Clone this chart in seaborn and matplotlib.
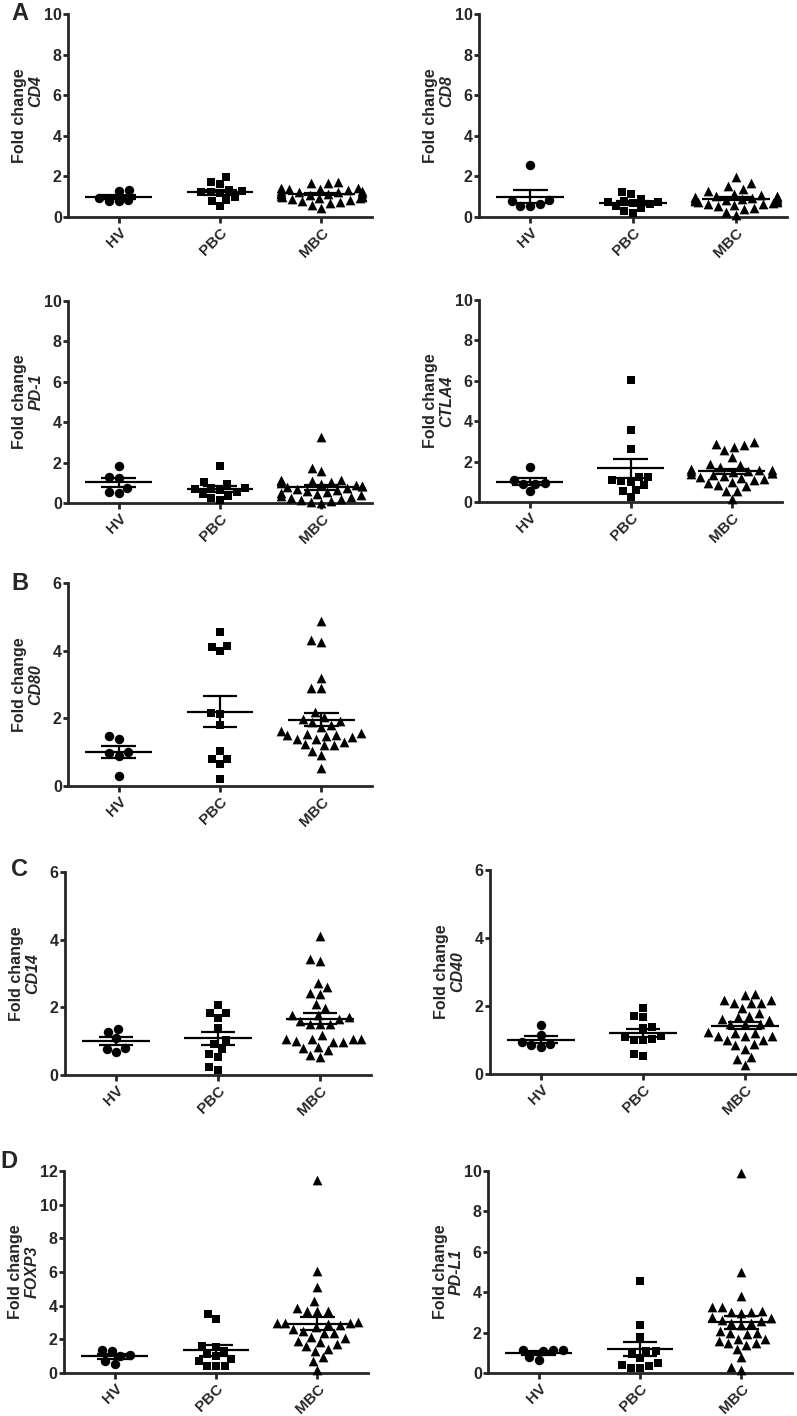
import numpy as np
import pandas as pd
import matplotlib
matplotlib.use("Agg")
import matplotlib.pyplot as plt
import seaborn as sns
import warnings
warnings.filterwarnings("ignore")

# ---------------- data ----------------
GROUPS = ["HV", "PBC", "MBC"]

CD4_HV = [1.30, 1.34, 0.85, 0.77, 0.77, 0.93]
CD4_PBC = [1.34, 1.72, 1.95, 1.62, 1.25, 1.21, 1.18, 1.26, 0.85, 0.77, 0.52, 1.00]
CD4_MBC = [1.70, 1.68, 1.68, 1.45, 1.42, 1.40, 1.38, 1.35, 1.30, 1.28, 1.25, 1.22, 1.20, 1.18, 1.15,
           1.12, 1.10, 1.05, 1.02, 1.00, 0.98, 0.95, 0.92, 0.88, 0.85, 0.80, 0.75, 0.68, 0.60, 0.45]

CD8_HV = [2.57, 0.85, 0.66, 0.56, 0.56, 0.77]
CD8_PBC = [1.13, 1.23, 0.90, 0.78, 0.75, 0.72, 0.70, 0.62, 0.55, 0.45, 0.30, 0.22]
CD8_MBC = [1.95, 1.67, 1.54, 1.39, 1.30, 1.15, 1.10, 1.05, 1.02, 1.00, 0.98, 0.95, 0.92, 0.90, 0.88,
           0.85, 0.82, 0.80, 0.78, 0.75, 0.72, 0.70, 0.65, 0.62, 0.58, 0.55, 0.45, 0.40, 0.25, 0.10]

PD1_HV = [1.85, 1.28, 1.22, 0.72, 0.52, 0.50]
PD1_PBC = [1.85, 1.03, 0.93, 0.75, 0.72, 0.68, 0.62, 0.55, 0.45, 0.35, 0.25, 0.15]
PD1_MBC = [3.28, 1.75, 1.59, 1.15, 1.12, 1.10, 1.08, 1.05, 1.00, 0.95, 0.90, 0.85, 0.82, 0.78, 0.75,
           0.70, 0.65, 0.60, 0.55, 0.50, 0.45, 0.40, 0.35, 0.30, 0.25, 0.20, 0.15, 0.10, 0.05, 0.02]

CTLA4_HV = [1.72, 1.10, 0.90, 0.88, 0.92, 0.52]
CTLA4_PBC = [6.02, 3.56, 2.61, 1.26, 1.22, 1.10, 1.05, 1.00, 0.82, 0.61, 0.52, 0.25]
CTLA4_MBC = [2.95, 2.85, 2.82, 2.72, 2.57, 2.25, 1.87, 1.85, 1.75, 1.65, 1.60, 1.58, 1.55, 1.52, 1.50,
             1.45, 1.42, 1.38, 1.35, 1.30, 1.25, 1.20, 1.15, 1.10, 1.00, 0.92, 0.85, 0.78, 0.56, 0.55, 0.15]

CD80_HV = [1.48, 1.39, 1.00, 0.98, 0.88, 0.30]
CD80_PBC = [4.55, 4.15, 4.12, 3.98, 2.12, 2.15, 1.80, 1.04, 0.79, 0.81, 0.64, 0.20]
CD80_MBC = [4.87, 4.32, 4.25, 3.19, 2.91, 2.89, 2.18, 2.03, 1.97, 1.93, 1.88, 1.80, 1.75, 1.62, 1.58,
            1.55, 1.52, 1.50, 1.48, 1.45, 1.40, 1.38, 1.30, 1.25, 1.22, 1.20, 1.03, 0.92, 0.53]

CD14_HV = [1.37, 1.27, 1.09, 0.80, 0.78, 0.68]
CD14_PBC = [2.07, 1.82, 1.82, 1.68, 1.39, 1.02, 0.93, 0.78, 0.63, 0.54, 0.24, 0.15]
CD14_MBC = [4.10, 3.43, 3.37, 2.73, 2.60, 2.39, 2.41, 2.10, 1.97, 1.78, 1.78, 1.66, 1.70, 1.51, 1.50,
            1.50, 1.60, 1.19, 1.07, 1.07, 0.98, 0.98, 1.00, 1.07, 1.07, 0.83, 0.73, 0.54, 0.59, 0.80]

CD40_HV = [1.43, 1.14, 0.94, 0.89, 0.79, 0.84]
CD40_PBC = [1.95, 1.72, 1.68, 1.39, 1.34, 1.13, 1.09, 1.04, 1.01, 0.99, 0.60, 0.52]
CD40_MBC = [2.36, 2.33, 2.18, 2.18, 2.08, 2.08, 2.08, 1.93, 1.80, 1.72, 1.61, 1.67, 1.60, 1.46, 1.46,
            1.46, 1.21, 1.21, 1.23, 1.13, 1.13, 1.13, 1.01, 1.01, 0.84, 0.87, 0.75, 0.49, 0.45, 0.26]

FOXP3_HV = [1.28, 1.38, 0.99, 1.05, 0.53, 0.69]
FOXP3_PBC = [3.50, 3.22, 1.54, 1.58, 1.28, 1.13, 0.85, 0.99, 0.69, 0.43, 0.40, 0.43]
FOXP3_MBC = [11.46, 6.03, 5.12, 4.25, 3.85, 3.70, 3.70, 3.70, 3.02, 3.00, 2.90, 2.75, 2.95, 3.00, 2.51,
             2.37, 2.37, 2.11, 2.05, 1.92, 1.84, 1.72, 1.58, 1.44, 1.32, 0.93, 0.73, 0.20, 2.60, 2.85]

PDL1_HV = [1.15, 1.07, 1.12, 1.15, 0.66, 0.77]
PDL1_PBC = [4.53, 2.39, 1.76, 1.07, 1.07, 0.94, 0.74, 0.49, 0.33, 0.41, 0.25, 0.25]
PDL1_MBC = [9.88, 4.98, 3.79, 3.25, 3.29, 3.01, 3.05, 2.95, 3.00, 2.75, 2.72, 2.64, 2.55, 2.50, 2.50,
            2.39, 2.10, 1.98, 1.95, 2.00, 1.70, 1.60, 1.70, 1.48, 1.50, 1.40, 1.20, 0.77, 0.28, 0.16]

Y_TICKS_10 = [0, 2, 4, 6, 8, 10]
Y_TICKS_6 = [0, 2, 4, 6]
Y_TICKS_12 = [0, 2, 4, 6, 8, 10, 12]

# ---------------- style ----------------
sns.set_style("ticks")
plt.rcParams["font.family"] = ["Liberation Sans", "DejaVu Sans"]
plt.rcParams["font.weight"] = "bold"

W, H = 797, 1416
fig = plt.figure(figsize=(W / 100, H / 100), dpi=100)


def rect(l, t, r, b):
    return [l / W, 1 - b / H, (r - l) / W, (b - t) / H]


MARKERS = {"HV": "o", "PBC": "s", "MBC": "^"}
SIZES = {"HV": 6.8, "PBC": 6.4, "MBC": 7.0}
PX = 72 / 100  # px -> pt


def panel(box, hv, pbc, mbc, gene, yticks, gene_shift=0.0):
    ax = fig.add_axes(rect(*box))
    df = pd.DataFrame({
        "group": ["HV"] * len(hv) + ["PBC"] * len(pbc) + ["MBC"] * len(mbc),
        "value": list(hv) + list(pbc) + list(mbc),
    })
    for g in GROUPS:
        sns.swarmplot(data=df[df["group"] == g], x="group", y="value", order=GROUPS,
                      marker=MARKERS[g], color="black", size=SIZES[g], linewidth=0,
                      ax=ax, clip_on=False, zorder=3)
    stats = df.groupby("group")["value"].agg(["mean", "sem"]).reindex(GROUPS)
    for i, g in enumerate(GROUPS):
        m, s = stats.loc[g, "mean"], stats.loc[g, "sem"]
        ax.hlines(m, i - 0.33, i + 0.33, color="black", lw=1.6, zorder=4)
        ax.vlines(i, m - s, m + s, color="black", lw=1.6, zorder=4)
        ax.hlines([m - s, m + s], i - 0.17, i + 0.17, color="black", lw=1.6, zorder=4)
    ax.set_xlim(-0.5, 2.5)
    ax.set_ylim(0, yticks[-1])
    ax.set_yticks(yticks)
    ax.set_yticklabels([str(t) for t in yticks], fontsize=11.5, fontweight="bold")
    ax.set_xticks(range(3))
    ax.set_xticklabels(GROUPS, rotation=45, ha="right", va="top", rotation_mode="anchor",
                       fontsize=11, fontweight="bold")
    ax.set_xlabel("")
    ax.set_ylabel("")
    for sp in ["top", "right"]:
        ax.spines[sp].set_visible(False)
    for sp in ["left", "bottom"]:
        ax.spines[sp].set_linewidth(2.0)
    ax.tick_params(axis="y", direction="out", length=3.5, width=2.0, pad=1)
    ax.tick_params(axis="x", direction="out", length=4.0, width=2.0, pad=2)
    ax.annotate("Fold change", xy=(0, 0.5), xycoords="axes fraction",
                xytext=(-48 * PX, 0), textcoords="offset points", rotation=90,
                ha="center", va="center", fontsize=11.5, fontweight="bold")
    ax.annotate(gene, xy=(0, 0.5), xycoords="axes fraction",
                xytext=(-32 * PX, gene_shift * PX), textcoords="offset points", rotation=90,
                ha="center", va="center", fontsize=11.5, fontweight="bold", fontstyle="italic")
    return ax


panel((68, 14, 372, 217), CD4_HV, CD4_PBC, CD4_MBC, "CD4", Y_TICKS_10, 24)
panel((479, 14, 787, 217), CD8_HV, CD8_PBC, CD8_MBC, "CD8", Y_TICKS_10, 24)
panel((68, 301, 372, 503), PD1_HV, PD1_PBC, PD1_MBC, "PD-1", Y_TICKS_10, 10)
panel((479, 300, 782, 502), CTLA4_HV, CTLA4_PBC, CTLA4_MBC, "CTLA4", Y_TICKS_10, 0)
panel((68, 583, 372, 786), CD80_HV, CD80_PBC, CD80_MBC, "CD80", Y_TICKS_6, 0)
panel((65, 872, 371, 1075), CD14_HV, CD14_PBC, CD14_MBC, "CD14", Y_TICKS_6, 0)
panel((490, 870, 796, 1074), CD40_HV, CD40_PBC, CD40_MBC, "CD40", Y_TICKS_6, 0)
panel((64, 1171, 368, 1373), FOXP3_HV, FOXP3_PBC, FOXP3_MBC, "FOXP3", Y_TICKS_12, 0)
panel((488, 1171, 792, 1373), PDL1_HV, PDL1_PBC, PDL1_MBC, "PD-L1", Y_TICKS_10, 0)

for letter, (x, y) in zip("ABCD", [(20, 14), (20, 583), (19, 869), (9, 1162)]):
    fig.text(x / W, 1 - y / H, letter, ha="center", va="center", fontsize=17, fontweight="bold")

fig.savefig("out.png", dpi=100)
